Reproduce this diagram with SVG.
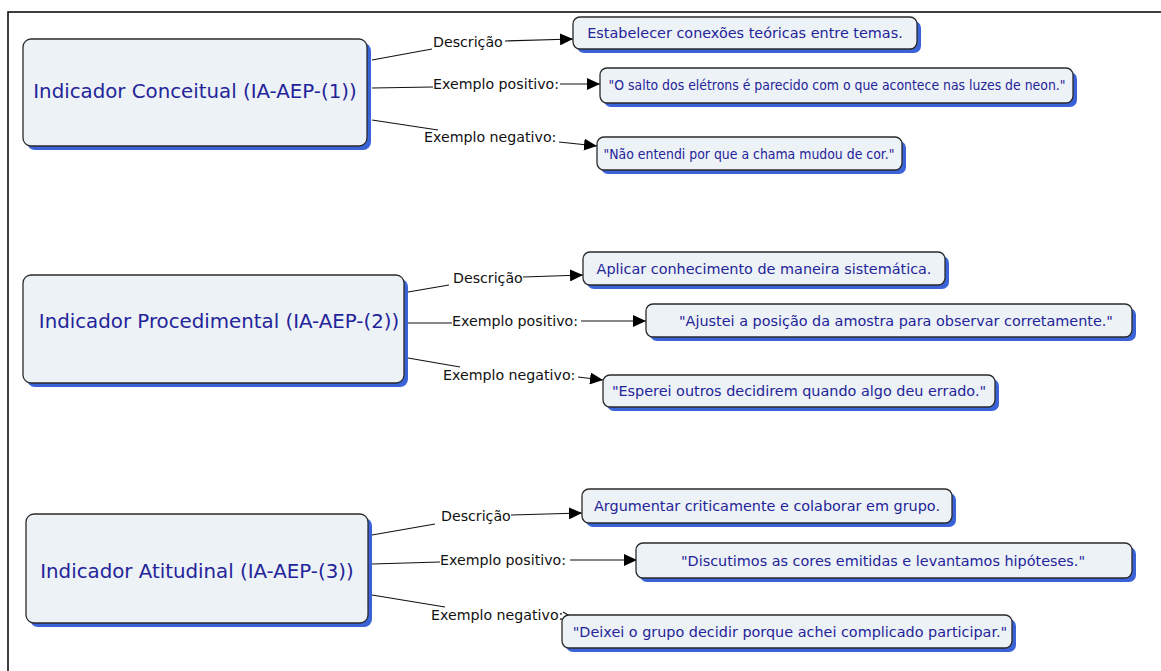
<svg xmlns="http://www.w3.org/2000/svg" width="1161" height="671" viewBox="0 0 1161 671">
<style>
.bg{fill:#ffffff}
.frame{stroke:#000;stroke-width:1.5;fill:none}
.shadow{fill:#3b63d8}
.box{fill:#edf2f6;stroke:#2a2a2a;stroke-width:1.3}
.main{font-family:"DejaVu Sans",Verdana,sans-serif;font-size:19.8px;fill:#24249a;text-anchor:middle}
.sub{font-family:"DejaVu Sans",Verdana,sans-serif;font-size:14.4px;fill:#24249a;text-anchor:middle}
.lbl{font-family:"DejaVu Sans",Verdana,sans-serif;font-size:14.2px;fill:#111}
.ln{stroke:#111;stroke-width:1.2;fill:none}
</style>
<defs>
<marker id="arr" markerUnits="userSpaceOnUse" markerWidth="14" markerHeight="12" refX="13" refY="6" orient="auto">
<path d="M0,0 L13,6 L0,12 Z" fill="#000"/>
</marker>
</defs>
<rect class="bg" x="0" y="0" width="1161" height="671"/>
<path class="frame" d="M8,671 L8,12 L1161,12"/>

<g id="connectors">
<line class="ln" x1="372" y1="60" x2="432" y2="49"/>
<line class="ln" x1="505" y1="41" x2="573" y2="39" marker-end="url(#arr)"/>
<line class="ln" x1="372" y1="88" x2="433" y2="87"/>
<line class="ln" x1="560" y1="84" x2="600" y2="84" marker-end="url(#arr)"/>
<line class="ln" x1="372" y1="120" x2="438" y2="130"/>
<line class="ln" x1="559" y1="142" x2="597" y2="146" marker-end="url(#arr)"/>

<line class="ln" x1="408" y1="292" x2="449" y2="285"/>
<line class="ln" x1="523" y1="277" x2="583" y2="275" marker-end="url(#arr)"/>
<line class="ln" x1="408" y1="323" x2="452" y2="323"/>
<line class="ln" x1="581" y1="321" x2="646" y2="321" marker-end="url(#arr)"/>
<line class="ln" x1="408" y1="358" x2="460" y2="367"/>
<line class="ln" x1="578" y1="377" x2="603" y2="380" marker-end="url(#arr)"/>

<line class="ln" x1="372" y1="535" x2="435" y2="524"/>
<line class="ln" x1="511" y1="515" x2="582" y2="513" marker-end="url(#arr)"/>
<line class="ln" x1="372" y1="564" x2="440" y2="562"/>
<line class="ln" x1="570" y1="560" x2="637" y2="560" marker-end="url(#arr)"/>
<line class="ln" x1="372" y1="595" x2="445" y2="607"/>
<line class="ln" x1="563" y1="612" x2="590" y2="628" marker-end="url(#arr)"/>

<text class="lbl" x="433" y="47">Descrição</text>
<text class="lbl" x="433" y="89">Exemplo positivo:</text>
<text class="lbl" x="424" y="142">Exemplo negativo:</text>
<text class="lbl" x="453" y="283">Descrição</text>
<text class="lbl" x="452" y="326">Exemplo positivo:</text>
<text class="lbl" x="443" y="380">Exemplo negativo:</text>
<text class="lbl" x="441" y="521">Descrição</text>
<text class="lbl" x="440" y="565">Exemplo positivo:</text>
<text class="lbl" x="431" y="620">Exemplo negativo:</text>
</g>

<g id="n1">
<rect class="shadow" x="27" y="43" width="344" height="107" rx="8"/>
<rect class="box" x="23" y="39" width="344" height="107" rx="8"/>
<text class="main" x="195" y="98">Indicador Conceitual (IA-AEP-(1))</text>
</g>
<g id="n2">
<rect class="shadow" x="27" y="279" width="381" height="108" rx="8"/>
<rect class="box" x="23" y="275" width="381" height="108" rx="8"/>
<text class="main" x="219" y="328">Indicador Procedimental (IA-AEP-(2))</text>
</g>
<g id="n3">
<rect class="shadow" x="30" y="518" width="342" height="109" rx="8"/>
<rect class="box" x="26" y="514" width="342" height="109" rx="8"/>
<text class="main" x="197" y="578">Indicador Atitudinal (IA-AEP-(3))</text>
</g>

<g id="a1">
<rect class="shadow" x="577" y="21" width="344" height="32" rx="7"/>
<rect class="box" x="573" y="17" width="344" height="32" rx="7"/>
<text class="sub" x="745" y="38">Estabelecer conexões teóricas entre temas.</text>
</g>
<g id="a2">
<rect class="shadow" x="604" y="72" width="473" height="35" rx="7"/>
<rect class="box" x="600" y="68" width="473" height="35" rx="7"/>
<text class="sub" x="837" y="90" textLength="457" lengthAdjust="spacingAndGlyphs">"O salto dos elétrons é parecido com o que acontece nas luzes de neon."</text>
</g>
<g id="a3">
<rect class="shadow" x="601" y="141" width="305" height="33" rx="7"/>
<rect class="box" x="597" y="137" width="305" height="33" rx="7"/>
<text class="sub" x="749" y="159" textLength="291" lengthAdjust="spacingAndGlyphs">"Não entendi por que a chama mudou de cor."</text>
</g>

<g id="b1">
<rect class="shadow" x="587" y="256" width="362" height="33" rx="7"/>
<rect class="box" x="583" y="252" width="362" height="33" rx="7"/>
<text class="sub" x="764" y="274">Aplicar conhecimento de maneira sistemática.</text>
</g>
<g id="b2">
<rect class="shadow" x="650" y="308" width="486" height="33" rx="7"/>
<rect class="box" x="646" y="304" width="486" height="33" rx="7"/>
<text class="sub" x="896" y="326">"Ajustei a posição da amostra para observar corretamente."</text>
</g>
<g id="b3">
<rect class="shadow" x="607" y="379" width="392" height="32" rx="7"/>
<rect class="box" x="603" y="375" width="392" height="32" rx="7"/>
<text class="sub" x="799" y="396">"Esperei outros decidirem quando algo deu errado."</text>
</g>

<g id="c1">
<rect class="shadow" x="586" y="493" width="370" height="34" rx="7"/>
<rect class="box" x="582" y="489" width="370" height="34" rx="7"/>
<text class="sub" x="767" y="511">Argumentar criticamente e colaborar em grupo.</text>
</g>
<g id="c2">
<rect class="shadow" x="640" y="547" width="496" height="35" rx="7"/>
<rect class="box" x="636" y="543" width="496" height="35" rx="7"/>
<text class="sub" x="883" y="566">"Discutimos as cores emitidas e levantamos hipóteses."</text>
</g>
<g id="c3">
<rect class="shadow" x="566" y="619" width="450" height="33" rx="7"/>
<rect class="box" x="562" y="615" width="450" height="33" rx="7"/>
<text class="sub" x="790" y="637">"Deixei o grupo decidir porque achei complicado participar."</text>
</g>
</svg>
